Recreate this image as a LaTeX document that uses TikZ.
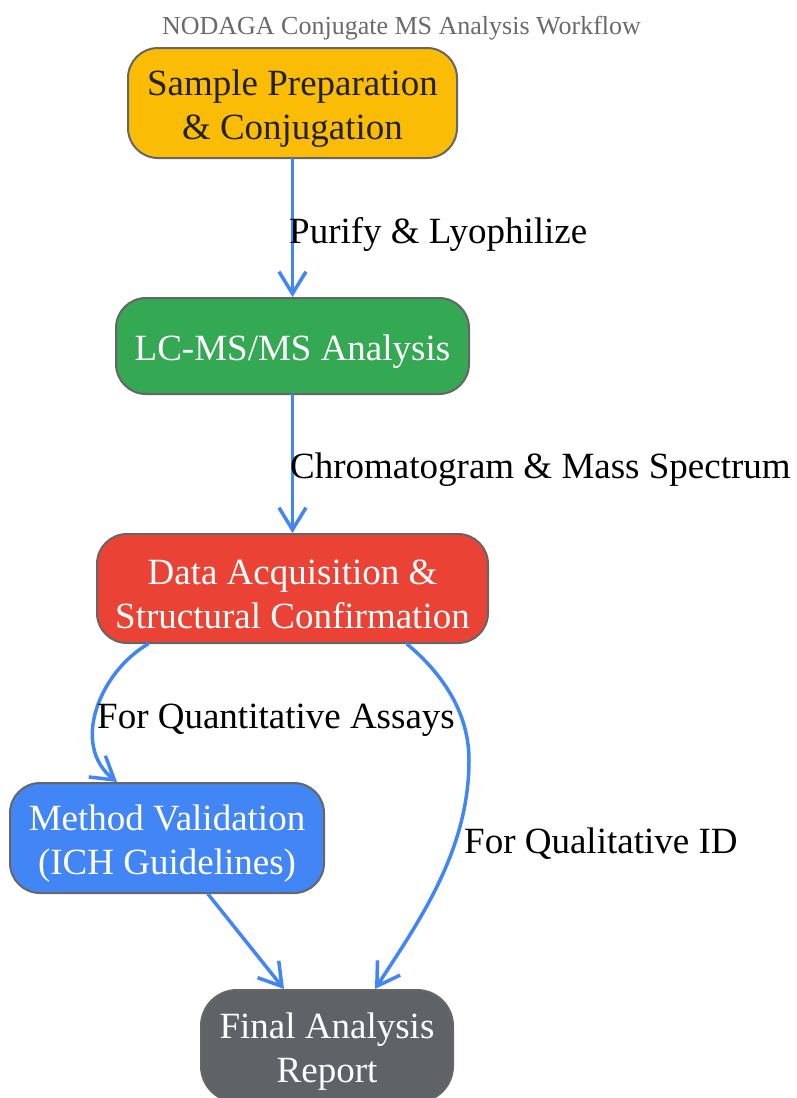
\documentclass[tikz,border=0pt]{standalone}
\usepackage{fontspec}
\setmainfont{Liberation Serif}
\usetikzlibrary{arrows.meta}
\definecolor{flowblue}{HTML}{4285F4}
\definecolor{boxgray}{HTML}{666666}
\definecolor{prepyellow}{HTML}{FBBC05}
\definecolor{lcgreen}{HTML}{34A853}
\definecolor{datared}{HTML}{EA4335}
\definecolor{reportgray}{HTML}{5F6368}
\definecolor{titlegray}{HTML}{6A6A6A}
\definecolor{darktext}{HTML}{222222}
\newcommand{\tallrow}{\rule{0pt}{37pt}}

\begin{document}
\begin{tikzpicture}[x=1pt,y=1pt,line cap=round,line join=round,>={Straight Barb[length=22pt,width=27pt]},
  box/.style={draw=boxgray,line width=2pt,rounded corners=30pt,inner sep=0pt,align=center,text=white,font=\fontsize{37}{44}\selectfont},
  flow/.style={->,draw=flowblue,line width=3.5pt},
  lbl/.style={inner sep=0pt,font=\fontsize{37}{44}\selectfont}]
\useasboundingbox (0,0) rectangle (797,-1098);
\node[font=\fontsize{26}{30}\selectfont,text=titlegray] (title) at (401.5,-28) {NODAGA Conjugate MS Analysis Workflow};
% the five steps
\node[box,fill=prepyellow,text=darktext,minimum width=329pt,minimum height=110pt] (prep) at (292.5,-103) {\tallrow Sample Preparation\\\& Conjugation};
\node[box,fill=lcgreen,minimum width=353pt,minimum height=96pt] (lcms) at (292.5,-346) {\tallrow LC-MS/MS Analysis};
\node[box,fill=datared,minimum width=391pt,minimum height=109pt] (data) at (292.5,-588.5) {\tallrow Data Acquisition \&\\Structural Confirmation};
\node[box,fill=flowblue,minimum width=314pt,minimum height=110pt] (valid) at (167,-838) {\tallrow Method Validation\\(ICH Guidelines)};
\node[box,fill=reportgray,rounded corners=36pt,minimum width=252pt,minimum height=112pt] (report) at (327,-1046) {\tallrow Final Analysis\\Report};
% connectors
\draw[flow] (prep) -- (lcms);
\draw[flow] (lcms) -- (data);
\draw[flow] ([xshift=-144.5pt]data.south) .. controls (100,-672) and (70,-745) .. ([xshift=-50pt]valid.north);
\draw[flow] ([xshift=114.5pt]data.south) .. controls (450,-680) and (469,-720) .. (469,-760) .. controls (469,-850) and (420,-920) .. ([xshift=48pt]report.north);
\draw[flow] ([xshift=41pt]valid.south) -- ([xshift=-43pt]report.north);
% edge labels
\node[lbl,anchor=west] (purify) at (289,-234) {Purify \& Lyophilize};
\node[lbl,anchor=west] (chrom) at (290,-470) {Chromatogram \& Mass Spectrum};
\node[lbl] (quant) at (276,-720) {For Quantitative Assays};
\node[lbl,anchor=west] (qual) at (464,-844) {For Qualitative ID};
\end{tikzpicture}
\end{document}
